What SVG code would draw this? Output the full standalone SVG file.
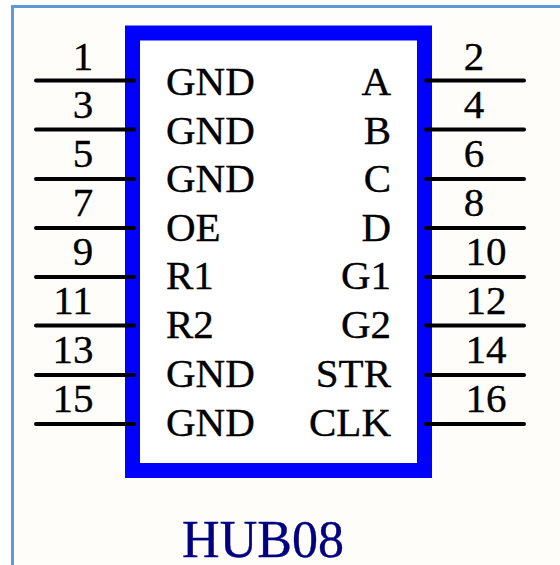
<svg xmlns="http://www.w3.org/2000/svg" width="560" height="565" viewBox="0 0 560 565">
<style>
text{font-family:"Liberation Serif","Times New Roman",serif;font-size:41px;fill:#000;stroke:#000;stroke-width:.35}
.e{text-anchor:end}.m{text-anchor:middle}
.pin{stroke:#000;stroke-width:4;stroke-linecap:round;fill:none}
</style>
<rect width="560" height="565" fill="#fff"/>
<rect x="12.500" y="6.500" width="560" height="570" fill="#fffdf9" stroke="#5b9bd5" stroke-width="3"/>
<g id="hub08">
<rect id="body" x="132.500" y="33" width="292" height="437.500" fill="#fff" stroke="#0000ff" stroke-width="15"/>
<text x="263" y="557" class="m" style="font-size:52px;fill:#000080;stroke:#000080">HUB08</text>
</g>
<g id="connectors">
<path class="pin" d="M36 80.500H134M36 129.500H134M36 179H134M36 228H134M36 277H134M36 325.500H134M36 375H134M36 424H134"/>
<path class="pin" d="M426 80.500H524M426 129.500H524M426 179H524M426 228H524M426 277H524M426 325.500H524M426 375H524M426 424H524"/>
</g>
<g id="labels-left">
<text x="166" y="95">GND</text><text x="166" y="144">GND</text><text x="166" y="192">GND</text><text x="166" y="241">OE</text><text x="166" y="289">R1</text><text x="166" y="338">R2</text><text x="166" y="387">GND</text><text x="166" y="436">GND</text>
</g>
<g id="labels-right">
<text x="391" y="95" class="e">A</text><text x="391" y="144" class="e">B</text><text x="391" y="192" class="e">C</text><text x="391" y="241" class="e">D</text><text x="391" y="289" class="e">G1</text><text x="391" y="338" class="e">G2</text><text x="391" y="387" class="e">STR</text><text x="391" y="436" class="e">CLK</text>
</g>
<g id="numbers-left">
<text x="83" y="70" class="m">1</text><text x="83" y="118" class="m">3</text><text x="83" y="167" class="m">5</text><text x="83" y="216" class="m">7</text><text x="83" y="265" class="m">9</text><text x="73" y="314" class="m">11</text><text x="73" y="363" class="m">13</text><text x="73" y="412" class="m">15</text>
</g>
<g id="numbers-right">
<text x="474" y="70" class="m">2</text><text x="474" y="118" class="m">4</text><text x="474" y="167" class="m">6</text><text x="474" y="216" class="m">8</text><text x="486" y="265" class="m">10</text><text x="486" y="314" class="m">12</text><text x="486" y="363" class="m">14</text><text x="486" y="412" class="m">16</text>
</g>
</svg>
